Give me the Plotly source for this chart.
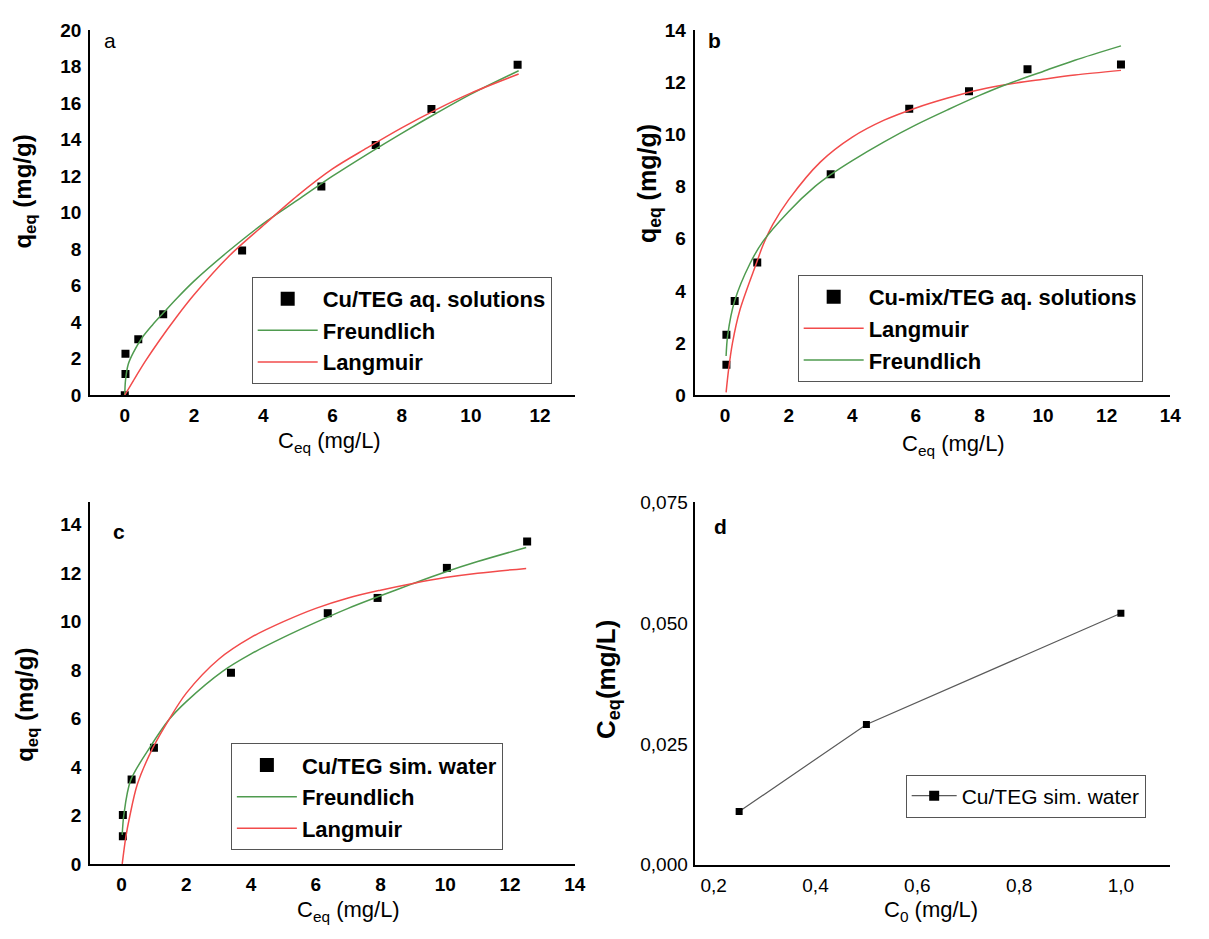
import plotly.graph_objects as go

W, H = 1209, 939

# ---------------- data ----------------
# panel a : Cu/TEG aq. solutions
a_pts_c = [0.0, 0.02, 0.02, 0.39, 1.11, 3.39, 5.68, 7.25, 8.86, 11.35]
a_pts_q = [0.0, 1.16, 2.27, 3.07, 4.43, 7.93, 11.43, 13.71, 15.68, 18.11]
a_fr_c = [0.0, 0.02, 0.1, 0.25, 0.5, 0.8, 1.11, 1.5, 2.0, 3.0, 4.0, 5.0, 6.0, 7.0, 8.0, 9.0, 10.0, 11.38]
a_fr_q = [0.0, 0.8, 1.7, 2.35, 3.15, 3.85, 4.5, 5.3, 6.25, 7.9, 9.4, 10.7, 12.0, 13.2, 14.35, 15.45, 16.5, 17.78]
a_la_c = [0.0, 0.25, 0.59, 1.0, 1.5, 2.0, 3.0, 4.0, 5.0, 6.0, 7.0, 8.0, 9.0, 10.0, 11.38]
a_la_q = [0.0, 0.8, 1.85, 3.0, 4.3, 5.5, 7.6, 9.3, 10.95, 12.4, 13.55, 14.65, 15.65, 16.55, 17.6]

# panel b : Cu-mix/TEG aq. solutions
b_pts_c = [0.04, 0.04, 0.30, 1.01, 3.32, 5.79, 7.67, 9.51, 12.45]
b_pts_q = [1.17, 2.32, 3.61, 5.09, 8.48, 10.99, 11.66, 12.5, 12.69]
b_la_c = [0.03, 0.11, 0.23, 0.46, 0.98, 1.19, 1.5, 2.0, 3.0, 4.0, 5.0, 6.0, 7.0, 8.0, 9.0, 10.0, 11.0, 12.45]
b_la_q = [0.11, 1.0, 2.0, 3.25, 5.05, 5.75, 6.55, 7.5, 8.95, 9.9, 10.55, 11.02, 11.4, 11.72, 11.95, 12.12, 12.28, 12.46]
b_fr_c = [0.03, 0.08, 0.30, 0.79, 1.19, 2.0, 2.82, 3.32, 4.0, 5.0, 6.0, 7.0, 8.0, 8.8, 10.0, 11.0, 12.45]
b_fr_q = [1.5, 2.3, 3.62, 5.07, 5.9, 7.05, 8.0, 8.46, 9.0, 9.72, 10.37, 10.95, 11.5, 11.9, 12.42, 12.85, 13.4]

# panel c : Cu/TEG sim. water
c_pts_c = [0.04, 0.04, 0.31, 1.0, 3.38, 6.37, 7.91, 10.05, 12.53]
c_pts_q = [1.14, 2.02, 3.49, 4.8, 7.89, 10.35, 10.98, 12.22, 13.31]
c_fr_c = [0.02, 0.07, 0.28, 0.87, 1.46, 2.0, 3.12, 4.0, 5.0, 6.0, 7.0, 8.0, 9.0, 10.0, 11.0, 12.5]
c_fr_q = [1.2, 2.02, 3.45, 4.8, 5.95, 6.7, 7.95, 8.67, 9.35, 9.97, 10.55, 11.07, 11.57, 12.05, 12.48, 13.06]
c_la_c = [0.02, 0.13, 0.25, 0.49, 0.97, 1.46, 2.0, 3.0, 4.0, 5.0, 6.0, 7.0, 8.0, 9.0, 10.0, 11.0, 12.5]
c_la_q = [0.0, 1.1, 1.95, 3.3, 4.8, 5.95, 7.05, 8.45, 9.35, 10.0, 10.55, 10.98, 11.3, 11.58, 11.82, 12.0, 12.2]

# panel d : Ceq vs C0
d_c0 = [0.25, 0.5, 1.0]
d_ceq = [0.011, 0.029, 0.052]

# ---------------- styling ----------------
FONT = "Liberation Sans, Arial, sans-serif"
GREEN = "#4f9b4f"
RED = "#f24b4b"

fig = go.Figure()


def curve(xs, ys, name, color, xa, ya, lg):
    fig.add_trace(go.Scatter(
        x=xs, y=ys, mode="lines", name=name, xaxis=xa, yaxis=ya, legend=lg,
        line=dict(color=color, width=1.5, shape="spline", smoothing=0.9),
        hoverinfo="skip"))


def points(xs, ys, name, xa, ya, lg):
    fig.add_trace(go.Scatter(
        x=xs, y=ys, mode="markers", name=name, xaxis=xa, yaxis=ya,
        showlegend=False, marker=dict(symbol="square", size=8, color="black")))
    fig.add_trace(go.Scatter(
        x=[None], y=[None], mode="markers", name=name, xaxis=xa, yaxis=ya,
        legend=lg, marker=dict(symbol="square", size=14, color="black")))


# panel a
points(a_pts_c, a_pts_q, "Cu/TEG aq. solutions", "x", "y", "legend")
curve(a_fr_c, a_fr_q, "Freundlich", GREEN, "x", "y", "legend")
curve(a_la_c, a_la_q, "Langmuir", RED, "x", "y", "legend")

# panel b
points(b_pts_c, b_pts_q, "Cu-mix/TEG aq. solutions", "x2", "y2", "legend2")
curve(b_la_c, b_la_q, "Langmuir", RED, "x2", "y2", "legend2")
curve(b_fr_c, b_fr_q, "Freundlich", GREEN, "x2", "y2", "legend2")

# panel c
points(c_pts_c, c_pts_q, "Cu/TEG sim. water", "x3", "y3", "legend3")
curve(c_fr_c, c_fr_q, "Freundlich", GREEN, "x3", "y3", "legend3")
curve(c_la_c, c_la_q, "Langmuir", RED, "x3", "y3", "legend3")

# panel d
fig.add_trace(go.Scatter(
    x=d_c0, y=d_ceq, mode="lines+markers", name="Cu/TEG sim. water",
    xaxis="x4", yaxis="y4", showlegend=False,
    line=dict(color="#5a5a5a", width=1.2),
    marker=dict(symbol="square", size=7, color="black")))
fig.add_trace(go.Scatter(
    x=[None], y=[None], mode="lines+markers", name="Cu/TEG sim. water",
    xaxis="x4", yaxis="y4", legend="legend4",
    line=dict(color="#5a5a5a", width=1.2),
    marker=dict(symbol="square", size=10, color="black")))


def axis(domain, rng, anchor, dtick, bold=True, fmt=None, tickvals=None, standoff=7):
    d = dict(domain=domain, range=rng, anchor=anchor, showline=True,
             linecolor="black", linewidth=2, ticks="", showgrid=False,
             zeroline=False, ticklabelstandoff=standoff,
             tickfont=dict(family=FONT, size=19, color="black",
                           weight="bold" if bold else "normal"))
    if tickvals is not None:
        d["tickvals"] = tickvals
    else:
        d["tick0"] = 0
        d["dtick"] = dtick
    if fmt:
        d["tickformat"] = fmt
    return d


xa_l = [91 / W, 580 / W]
xa_r = [701 / W, 1181 / W]
ya_t = [1 - 394 / H, 1 - 20.7 / H]
ya_b = [1 - 873.5 / H, 1 - 503 / H]

legend_common = dict(bgcolor="white", bordercolor="#555555", borderwidth=1,
                     xanchor="left", yanchor="top", xref="paper", yref="paper",
                     font=dict(family=FONT, size=22, color="black", weight="bold"),
                     itemwidth=60, tracegroupgap=0)

fig.update_layout(
    width=W, height=H, margin=dict(l=0, r=0, t=0, b=0),
    paper_bgcolor="white", plot_bgcolor="white",
    separators=",.",
    xaxis=axis(xa_l, [-1, 13], "y", 2, standoff=2),
    yaxis=axis(ya_t, [0, 20], "x", 2, standoff=3),
    xaxis2=axis(xa_r, [-0.96, 14], "y2", 2, standoff=2),
    yaxis2=axis(ya_t, [0, 14], "x2", 2, standoff=3),
    xaxis3=axis(xa_l, [-0.97, 14], "y3", 2, standoff=2),
    yaxis3=axis(ya_b, [0, 14.95], "x3", 2, standoff=3),
    xaxis4=axis(xa_r, [0.1625, 1.097], "y4", 0.2, bold=False, fmt=".1f", standoff=2),
    yaxis4=axis([1 - 874.3 / H, 1 - 503.3 / H], [0, 0.075], "x4", None, bold=False,
                fmt=".3f", tickvals=[0, 0.025, 0.05, 0.075], standoff=1),
    legend=dict(legend_common, x=254 / W, y=1 - 273 / H),
    legend2=dict(legend_common, x=805 / W, y=1 - 271 / H),
    legend3=dict(legend_common, x=233 / W, y=1 - 750 / H),
    legend4=dict(legend_common, x=914 / W, y=1 - 782 / H, itemwidth=45,
                 font=dict(family=FONT, size=21, color="black", weight="normal")),
    showlegend=True,
)

ann = []


def label(x, y, text, size, angle=0, bold=False):
    t = f"<b>{text}</b>" if bold else text
    ann.append(dict(x=x / W, y=1 - y / H, xref="paper", yref="paper", text=t,
                    showarrow=False, textangle=angle, xanchor="center",
                    yanchor="middle",
                    font=dict(family=FONT, size=size, color="black")))


# panel letters
label(111, 31, "a", 21)
label(721, 31, "b", 21, bold=True)
label(120, 533, "c", 21, bold=True)
label(727, 528, "d", 21, bold=True)

# axis titles
label(25, 186, "q<sub>eq</sub> (mg/g)", 24, angle=-90, bold=True)
label(333, 442, "C<sub>eq</sub> (mg/L)", 22)
label(655, 178, "q<sub>eq</sub> (mg/g)", 25, angle=-90, bold=True)
label(962, 445, "C<sub>eq</sub> (mg/L)", 22)
label(26, 711, "q<sub>eq</sub> (mg/g)", 24, angle=-90, bold=True)
label(352, 922, "C<sub>eq</sub> (mg/L)", 22)
label(613, 685, "C<sub>eq</sub>(mg/L)", 26, angle=-90, bold=True)
label(940, 922, "C<sub>0</sub> (mg/L)", 22)

fig.update_layout(annotations=ann)

fig.write_html("out.html", config={"displayModeBar": False},
               post_script="document.body.style.margin='0';document.body.style.overflow='hidden';")
